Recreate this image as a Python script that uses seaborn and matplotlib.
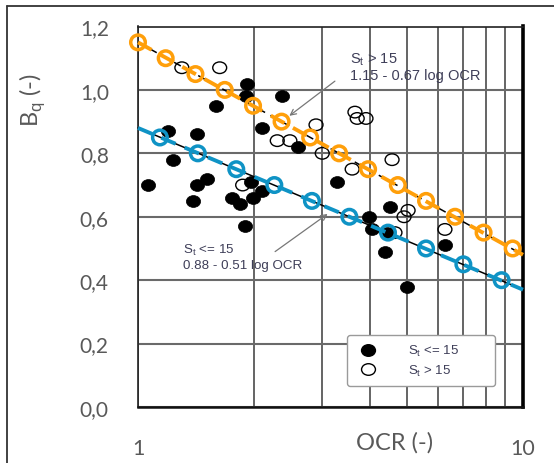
import numpy as np
import pandas as pd
import matplotlib
matplotlib.use("Agg")
import matplotlib.pyplot as plt
import seaborn as sns
from matplotlib.path import Path
from matplotlib.transforms import Affine2D
from matplotlib.lines import Line2D
from matplotlib.ticker import FixedLocator, NullFormatter, FixedFormatter

# ---------------- data ----------------
ocr_st_low = [1.06, 1.20, 1.42, 1.23, 1.59, 1.92, 1.91, 2.37, 2.10, 2.60,
              1.42, 1.51, 1.39, 1.75, 1.84, 1.99, 1.97, 2.10, 1.90, 3.29,
              4.51, 3.98, 4.05, 4.43, 4.38, 6.27, 5.00]
bq_st_low = [0.70, 0.87, 0.86, 0.78, 0.95, 1.02, 0.98, 0.98, 0.88, 0.82,
             0.70, 0.72, 0.65, 0.66, 0.64, 0.66, 0.71, 0.68, 0.57, 0.71,
             0.63, 0.60, 0.56, 0.55, 0.49, 0.51, 0.38]

ocr_st_high = [1.30, 1.63, 2.90, 2.30, 2.48, 3.01, 3.60, 3.66, 3.71, 3.91,
               4.57, 5.03, 4.91, 6.27, 4.65, 1.87]
bq_st_high = [1.07, 1.07, 0.89, 0.84, 0.84, 0.80, 0.75, 0.93, 0.91, 0.91,
              0.78, 0.62, 0.60, 0.56, 0.55, 0.70]

fit_ocr = [1.0, 10.0]
fit_low = [0.88, 0.37]    # 0.88 - 0.51 log OCR
fit_high = [1.15, 0.48]   # 1.15 - 0.67 log OCR

orange_ocr = [1.00, 1.18, 1.41, 1.68, 1.99, 2.36, 2.80, 3.33, 3.96, 4.73,
              5.60, 6.66, 7.90, 9.40]
orange_bq = [1.15, 1.10, 1.05, 1.00, 0.95, 0.90, 0.85, 0.80, 0.75, 0.70,
             0.65, 0.60, 0.55, 0.50]
blue_ocr = [1.14, 1.43, 1.80, 2.26, 2.83, 3.54, 4.46, 5.60, 7.00, 8.80]
blue_bq = [0.85, 0.80, 0.75, 0.70, 0.65, 0.60, 0.55, 0.50, 0.45, 0.40]

y_ticks = [0.0, 0.2, 0.4, 0.6, 0.8, 1.0, 1.2]
y_tick_labels = ["0,0", "0,2", "0,4", "0,6", "0,8", "1,0", "1,2"]
x_ticks = [1, 10]
x_tick_labels = ["1", "10"]
x_minor = [2, 3, 4, 5, 6, 7, 8, 9]

label_low = r"S$_\mathrm{t}$ <= 15"
label_high = r"S$_\mathrm{t}$ > 15"

# ---------------- style ----------------
sns.set_style("white")
plt.rcParams["font.family"] = ["Lato", "DejaVu Sans"]
plt.rcParams["mathtext.fontset"] = "custom"
plt.rcParams["mathtext.rm"] = "Liberation Sans"

ORANGE = "#ff9f0a"
BLUE = "#0f93c5"
GRAY_TXT = "#595959"
ANN = "#3e3e58"

fig = plt.figure(figsize=(5.54, 4.64), dpi=100)
ax = fig.add_axes([138 / 554, 56 / 464, 385 / 554, 380.5 / 464])

df_low = pd.DataFrame({"OCR": ocr_st_low, "Bq": bq_st_low})
df_high = pd.DataFrame({"OCR": ocr_st_high, "Bq": bq_st_high})
df_fit = pd.DataFrame({"OCR": fit_ocr, "low": fit_low, "high": fit_high})
df_or = pd.DataFrame({"OCR": orange_ocr, "Bq": orange_bq})
df_bl = pd.DataFrame({"OCR": blue_ocr, "Bq": blue_bq})

ax.set_xscale("log")
ax.set_xlim(1, 10)
ax.set_ylim(0, 1.2)

# grid
ax.xaxis.set_major_locator(FixedLocator(x_ticks))
ax.xaxis.set_major_formatter(FixedFormatter(x_tick_labels))
ax.xaxis.set_minor_locator(FixedLocator(x_minor))
ax.xaxis.set_minor_formatter(NullFormatter())
ax.set_yticks(y_ticks)
ax.set_yticklabels(y_tick_labels)
ax.grid(True, which="both", axis="x", color="#4a4a4a", lw=1.2)
ax.grid(True, which="major", axis="y", color="#6a6a6a", lw=1.5)
ax.set_axisbelow(True)

ellipse = Path.unit_circle().transformed(Affine2D().scale(1.2, 1.0))

# fit lines (black)
sns.lineplot(data=df_fit, x="OCR", y="low", color="black", lw=1.1, ax=ax,
             zorder=3)
sns.lineplot(data=df_fit, x="OCR", y="high", color="black", lw=1.1, ax=ax,
             linestyle=(0, (5, 4)), zorder=3)

# data points
sns.scatterplot(data=df_low, x="OCR", y="Bq", marker=ellipse, s=105,
                color="black", edgecolor="black", linewidth=0.5, ax=ax,
                zorder=4)
sns.scatterplot(data=df_high, x="OCR", y="Bq", marker=ellipse, s=100,
                facecolors="none", edgecolor="black", linewidth=1.0, ax=ax,
                zorder=4)

# coloured dashed lines with open markers
sns.lineplot(data=df_fit, x="OCR", y="high", color=ORANGE, lw=2.8, ax=ax,
             linestyle=(0, (4, 2.5)), zorder=5)
sns.lineplot(data=df_fit, x="OCR", y="low", color=BLUE, lw=2.8, ax=ax,
             linestyle=(0, (4, 2.5)), zorder=5)
sns.scatterplot(data=df_or, x="OCR", y="Bq", marker="o", s=110,
                facecolors="none", edgecolor=ORANGE, linewidth=2.5,
                ax=ax, zorder=6)
sns.scatterplot(data=df_bl, x="OCR", y="Bq", marker="o", s=110,
                facecolors="none", edgecolor=BLUE, linewidth=2.5,
                ax=ax, zorder=6)
for coll in ax.collections:
    coll.set_clip_on(False)
for ln in ax.lines:
    ln.set_clip_on(False)

# annotations
ax.annotate("", xy=(2.44, 0.913), xytext=(3.29, 1.033),
            arrowprops=dict(arrowstyle="->", color="#777777", lw=0.9),
            zorder=7)
ax.text(3.55, 1.125, label_high + "\n1.15 - 0.67 log OCR",
        family="Liberation Sans", fontsize=10.5, color=ANN, ha="left",
        va="top", linespacing=1.1, zorder=7)
ax.annotate("", xy=(3.15, 0.614), xytext=(2.24, 0.485),
            arrowprops=dict(arrowstyle="->", color="#777777", lw=0.9),
            zorder=7)
ax.text(1.31, 0.52, label_low + "\n0.88 - 0.51 log OCR",
        family="Liberation Sans", fontsize=9.6, color=ANN, ha="left",
        va="top", linespacing=1.2, zorder=7)

# legend
handles = [
    Line2D([], [], marker=ellipse, ls="", color="black", markersize=10),
    Line2D([], [], marker=ellipse, ls="", markerfacecolor="none",
           markeredgecolor="black", markeredgewidth=1.0, markersize=10),
]
leg = ax.legend(handles, [label_low, label_high], loc="lower left",
                bbox_to_anchor=(0.543, 0.055, 0.384, 0.134), mode="expand",
                frameon=True, fancybox=True, framealpha=1,
                prop={"family": "Liberation Sans", "size": 9.5},
                labelcolor=ANN, handletextpad=2.0, borderpad=0.6,
                labelspacing=0.35, borderaxespad=0)
leg.get_frame().set_edgecolor("#9a9a9a")
leg.get_frame().set_linewidth(1.0)
leg.set_zorder(8)

# spines
for s in ["left", "top"]:
    ax.spines[s].set_color("#222222")
    ax.spines[s].set_linewidth(1.2)
ax.spines["right"].set_color("black")
ax.spines["right"].set_linewidth(2.6)
ax.spines["bottom"].set_color("#111111")
ax.spines["bottom"].set_linewidth(1.8)

# ticks & labels
ax.tick_params(axis="both", which="both", length=0)
ax.tick_params(axis="y", pad=21, labelsize=15, labelcolor=GRAY_TXT)
ax.tick_params(axis="x", pad=22, labelsize=15.5, labelcolor=GRAY_TXT)

ax.set_xlabel("OCR (-)", fontsize=17, color=GRAY_TXT)
ax.xaxis.set_label_coords((395 - 138) / 385, (408 - 443) / 380.5)
ax.xaxis.label.set_va("center")
ax.set_ylabel(r"B$_\mathrm{q}$ (-)", fontsize=17, color=GRAY_TXT)
ax.yaxis.set_label_coords((32 - 138) / 385, (408 - 100) / 380.5)
ax.yaxis.label.set_va("center")
ax.yaxis.label.set_ha("center")

# outer frame (top and left edges of the chart box)
fig.add_artist(Line2D([7 / 554, 1], [1 - 7 / 464, 1 - 7 / 464],
                      transform=fig.transFigure, color="#333333", lw=1.3))
fig.add_artist(Line2D([7 / 554, 7 / 554], [0, 1 - 7 / 464],
                      transform=fig.transFigure, color="#333333", lw=1.3))

fig.savefig("out.png", dpi=100)
